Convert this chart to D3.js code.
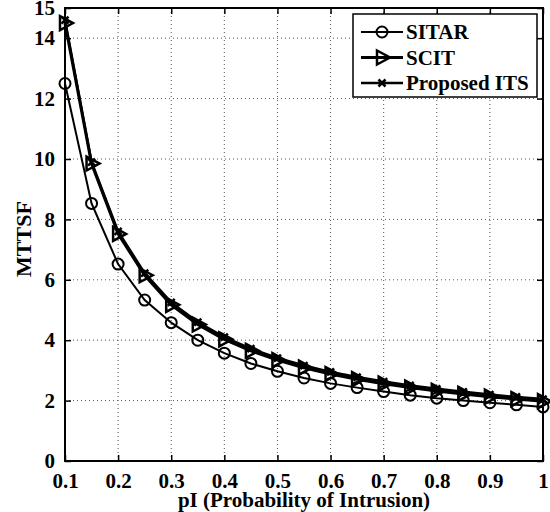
<!DOCTYPE html>
<html>
<head>
<meta charset="utf-8">
<script src="https://d3js.org/d3.v7.min.js"></script>
<style>
  body { margin:0; background:#fff; }
  text { font-family: "Liberation Serif", "Times New Roman", serif; font-weight:bold; fill:#000; }
</style>
</head>
<body>
<svg id="chart" width="550" height="512"></svg>
<script>
// data
var pI    = [0.1, 0.15, 0.2, 0.25, 0.3, 0.35, 0.4, 0.45, 0.5, 0.55, 0.6, 0.65, 0.7, 0.75, 0.8, 0.85, 0.9, 0.95, 1.0];
var sitar = [12.5, 8.53, 6.52, 5.33, 4.58, 4.0, 3.57, 3.23, 2.97, 2.75, 2.57, 2.43, 2.3, 2.18, 2.08, 2.0, 1.93, 1.86, 1.79];
var scit  = [14.5, 9.85, 7.52, 6.15, 5.17, 4.52, 4.03, 3.65, 3.34, 3.09, 2.88, 2.71, 2.56, 2.43, 2.32, 2.22, 2.13, 2.05, 1.98];
var its   = [14.6, 9.9, 7.6, 6.22, 5.25, 4.6, 4.1, 3.72, 3.41, 3.16, 2.95, 2.78, 2.63, 2.5, 2.39, 2.29, 2.2, 2.12, 2.05];
var xTicks = [0.1, 0.2, 0.3, 0.4, 0.5, 0.6, 0.7, 0.8, 0.9, 1];
var yTicks = [0, 2, 4, 6, 8, 10, 12, 14, 15];
var names  = ["SITAR", "SCIT", "Proposed ITS"];

var pl = 65, pr = 543, pt = 8, pb = 461;
var svg = d3.select("#chart");

var x = d3.scaleLinear().domain([0.1, 1]).range([pl, pr]);
var y = d3.scaleLinear().domain([0, 15]).range([pb, pt]);

// grid
var grid = svg.append("g").attr("stroke", "#555").attr("stroke-width", 1).attr("stroke-dasharray", "1,3");
grid.selectAll("line.gx").data(xTicks.slice(1, -1)).enter().append("line")
  .attr("x1", function(d){ return x(d); }).attr("x2", function(d){ return x(d); })
  .attr("y1", pt).attr("y2", pb);
grid.selectAll("line.gy").data(yTicks.filter(function(d){ return d > 0 && d < 15; })).enter().append("line")
  .attr("y1", function(d){ return y(d); }).attr("y2", function(d){ return y(d); })
  .attr("x1", pl).attr("x2", pr);

// axes with inward ticks on all four sides
function axis(g, a) {
  g.call(a);
  g.select(".domain").remove();
  g.selectAll(".tick line").attr("stroke", "#000").attr("stroke-width", 1.5);
  g.selectAll("text").style("font-size", "21px").style("font-family", "Liberation Serif").style("font-weight", "bold");
}
svg.append("g").attr("transform", "translate(0," + pb + ")")
  .call(function(g){ axis(g, d3.axisBottom(x).tickValues(xTicks).tickSize(-6).tickPadding(12).tickFormat(d3.format("~g"))); });
svg.append("g").attr("transform", "translate(0," + pt + ")")
  .call(function(g){ axis(g, d3.axisTop(x).tickValues(xTicks).tickSize(-6).tickFormat("")); });
svg.append("g").attr("transform", "translate(" + pl + ",0)")
  .call(function(g){ axis(g, d3.axisLeft(y).tickValues(yTicks).tickSize(-6).tickPadding(10)); });
svg.append("g").attr("transform", "translate(" + pr + ",0)")
  .call(function(g){ axis(g, d3.axisRight(y).tickValues(yTicks).tickSize(-6).tickFormat("")); });

svg.append("rect").attr("x", pl).attr("y", pt).attr("width", pr - pl).attr("height", pb - pt)
  .attr("fill", "none").attr("stroke", "#000").attr("stroke-width", 2);

// markers
function marker(g, kind) {
  if (kind == 0) {
    g.append("circle").attr("r", 5.5).attr("fill", "none").attr("stroke", "#000").attr("stroke-width", 2);
  } else if (kind == 1) {
    g.append("path").attr("d", "M-5,-7L8,0L-5,7Z").attr("fill", "none").attr("stroke", "#000").attr("stroke-width", 2.5);
  } else {
    g.append("path").attr("d", "M-3.5,-3.5L3.5,3.5M-3.5,3.5L3.5,-3.5").attr("stroke", "#000").attr("stroke-width", 2.5);
  }
}

var series = [sitar, scit, its];
var widths = [2, 3, 2.5];
var line = d3.line().x(function(d, i){ return x(pI[i]); }).y(function(d){ return y(d); });
series.forEach(function(s, k) {
  svg.append("path").datum(s).attr("d", line).attr("fill", "none").attr("stroke", "#000").attr("stroke-width", widths[k]);
  svg.selectAll(null).data(s).enter().append("g")
    .attr("transform", function(d, i){ return "translate(" + x(pI[i]) + "," + y(d) + ")"; })
    .each(function(){ marker(d3.select(this), k); });
});

// legend
var lg = svg.append("g");
lg.append("rect").attr("x", 353).attr("y", 14).attr("width", 184).attr("height", 83)
  .attr("fill", "#fff").attr("stroke", "#000").attr("stroke-width", 1.5);
names.forEach(function(n, k) {
  var ly = 32 + k * 25.5;
  lg.append("line").attr("x1", 361).attr("x2", 403).attr("y1", ly).attr("y2", ly).attr("stroke", "#000").attr("stroke-width", widths[k]);
  var m = lg.append("g").attr("transform", "translate(382," + ly + ")");
  marker(m, k);
  lg.append("text").attr("x", 406).attr("y", ly + 7).style("font-size", "21px").text(n);
});

// axis labels
svg.append("text").attr("x", 304).attr("y", 507).attr("text-anchor", "middle").style("font-size", "21px")
  .text("pI (Probability of Intrusion)");
svg.append("text").attr("transform", "translate(31,239) rotate(-90)").attr("text-anchor", "middle").style("font-size", "22px")
  .text("MTTSF");
</script>
</body>
</html>
